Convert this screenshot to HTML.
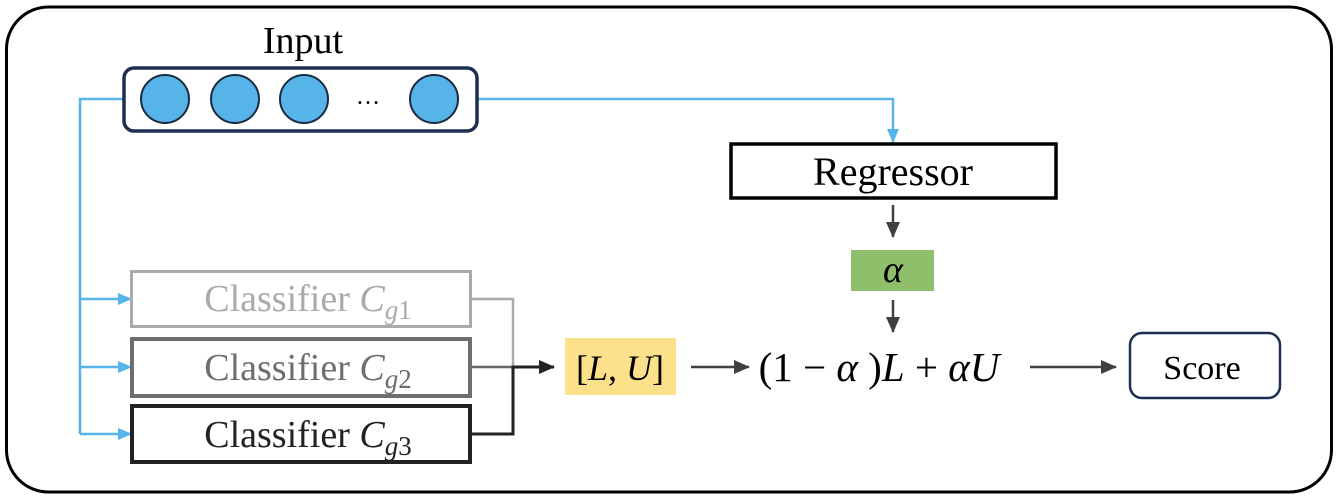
<!DOCTYPE html>
<html><head><meta charset="utf-8"><style>
html,body{margin:0;padding:0;background:#fff;}
svg{display:block}
svg text{font-family:"Liberation Serif","DejaVu Serif",serif !important;}
</style></head><body>
<svg width="1340" height="500" viewBox="0 0 1340 500" xmlns="http://www.w3.org/2000/svg" font-family="Liberation Serif, serif">
<defs>
<marker id="ab" markerWidth="14" markerHeight="14" refX="13" refY="7" orient="auto" markerUnits="userSpaceOnUse"><path d="M0,1 L14,7 L0,13 z" fill="#56b4e8"/></marker>
<marker id="ak" markerWidth="16" markerHeight="16" refX="15" refY="8" orient="auto" markerUnits="userSpaceOnUse"><path d="M0,1 L16,8 L0,15 z" fill="#222"/></marker>
<marker id="ag" markerWidth="16" markerHeight="16" refX="15" refY="8" orient="auto" markerUnits="userSpaceOnUse"><path d="M0,1 L16,8 L0,15 z" fill="#404040"/></marker>
</defs>
<rect x="6.5" y="7" width="1325" height="485" rx="42" fill="none" stroke="#000" stroke-width="3"/>
<text x="303" y="53" font-size="38" text-anchor="middle">Input</text>
<path d="M123,99 H80 V434" fill="none" stroke="#56b4e8" stroke-width="2.5"/>
<line x1="80" y1="299" x2="131" y2="299" stroke="#56b4e8" stroke-width="2.5" marker-end="url(#ab)"/>
<line x1="80" y1="367" x2="131" y2="367" stroke="#56b4e8" stroke-width="2.5" marker-end="url(#ab)"/>
<line x1="80" y1="434" x2="131" y2="434" stroke="#56b4e8" stroke-width="2.5" marker-end="url(#ab)"/>
<path d="M477,99 H893 V142" fill="none" stroke="#56b4e8" stroke-width="2.5" marker-end="url(#ab)"/>
<rect x="124" y="68" width="353" height="63" rx="10" fill="#fff" stroke="#1c2f50" stroke-width="3.5"/>
<g fill="#56b4e8" stroke="#1a2a40" stroke-width="2">
<circle cx="165" cy="99" r="24"/><circle cx="235" cy="99" r="24"/><circle cx="304" cy="99" r="24"/><circle cx="434" cy="99" r="24"/>
</g>
<text x="368" y="104" font-size="24" text-anchor="middle">…</text>
<rect x="731" y="144" width="325" height="54" fill="#fff" stroke="#000" stroke-width="3.5"/>
<text x="893" y="185" font-size="40" text-anchor="middle">Regressor</text>
<line x1="893" y1="205" x2="893" y2="237" stroke="#404040" stroke-width="2.5" marker-end="url(#ag)"/>
<rect x="851" y="250" width="83" height="41" fill="#8fbf6a"/>
<text x="893" y="282" font-size="38" font-style="italic" text-anchor="middle">α</text>
<line x1="893" y1="300" x2="893" y2="332" stroke="#404040" stroke-width="2.5" marker-end="url(#ag)"/>
<path d="M471,299 H513 V367" fill="none" stroke="#aaa" stroke-width="2.5"/>
<path d="M471,367 H513" fill="none" stroke="#666" stroke-width="2.5"/>
<path d="M471,434 H513 V367 H554" fill="none" stroke="#222" stroke-width="3" marker-end="url(#ak)"/>
<rect x="131.5" y="271.5" width="339" height="55" fill="#fff" stroke="#aaa" stroke-width="3"/>
<text x="308" y="311" font-size="38" fill="#aaa" text-anchor="middle">Classifier <tspan font-style="italic">C</tspan><tspan font-size="27" dy="8"><tspan font-style="italic">g</tspan>1</tspan></text>
<rect x="132" y="339" width="338" height="57" fill="#fff" stroke="#6e6e6e" stroke-width="4"/>
<text x="308" y="380" font-size="38" fill="#6e6e6e" text-anchor="middle">Classifier <tspan font-style="italic">C</tspan><tspan font-size="27" dy="8"><tspan font-style="italic">g</tspan>2</tspan></text>
<rect x="132" y="406" width="338" height="56" fill="#fff" stroke="#222" stroke-width="4"/>
<text x="308" y="447" font-size="38" fill="#222" text-anchor="middle">Classifier <tspan font-style="italic">C</tspan><tspan font-size="27" dy="8"><tspan font-style="italic">g</tspan>3</tspan></text>
<rect x="565" y="338" width="111" height="57" fill="#fde08a"/>
<text x="620" y="380" font-size="36" text-anchor="middle">[<tspan font-style="italic">L</tspan>, <tspan font-style="italic">U</tspan>]</text>
<line x1="691" y1="367" x2="749" y2="367" stroke="#404040" stroke-width="2.5" marker-end="url(#ag)"/>
<text x="879" y="381" font-size="41" text-anchor="middle">(1 − <tspan font-style="italic">α</tspan> )<tspan font-style="italic">L</tspan> + <tspan font-style="italic">αU</tspan></text>
<line x1="1030" y1="367" x2="1116" y2="367" stroke="#404040" stroke-width="2.5" marker-end="url(#ag)"/>
<rect x="1130" y="333" width="150" height="65" rx="12" fill="#fff" stroke="#1c2f50" stroke-width="2.5"/>
<text x="1202" y="379" font-size="34" text-anchor="middle">Score</text>
</svg>
</body></html>
